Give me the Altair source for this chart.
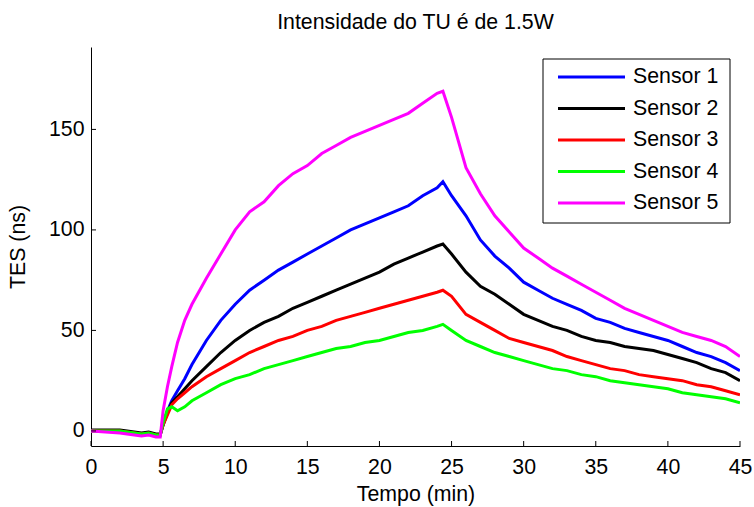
import altair as alt
import pandas as pd

# ---- data ----
t = [0, 1, 2, 2.5, 3, 3.5, 4, 4.5, 4.8,
     5.0, 5.3, 5.6, 6, 6.5, 7,
     8, 9, 10, 11, 12, 13, 14, 15, 16, 17, 18, 19, 20, 21, 22, 23, 24,
     24.4,
     25, 26, 27, 28, 29, 30, 31, 32, 33, 34, 35, 36, 37, 38, 39, 40, 41, 42, 43, 44, 45]

sensor1 = [0, 0, 0, -0.5, -1, -1.5, -1, -2, -2,
           3, 10, 15, 20, 26, 33,
           45, 55, 63, 70, 75, 80, 84, 88, 92, 96, 100, 103, 106, 109, 112, 117, 121,
           124,
           117, 107, 95, 87, 81, 74, 70, 66, 63, 60, 56, 54, 51, 49, 47, 45, 42, 39, 37, 34, 30]

sensor2 = [0.5, 0.5, 0.5, 0, -0.5, -1, -0.5, -1.5, -1.5,
           3, 9, 14, 17, 21, 25,
           32, 39, 45, 50, 54, 57, 61, 64, 67, 70, 73, 76, 79, 83, 86, 89, 92,
           93,
           88, 79, 72, 68, 63, 58, 55, 52, 50, 47, 45, 44, 42, 41, 40, 38, 36, 34, 31, 29, 25]

sensor3 = [0, 0, 0, -0.5, -1, -1.5, -1, -2, -2,
           3, 8, 13, 16, 19, 22,
           27, 31, 35, 39, 42, 45, 47, 50, 52, 55, 57, 59, 61, 63, 65, 67, 69,
           70,
           67, 58, 54, 50, 46, 44, 42, 40, 37, 35, 33, 31, 30, 28, 27, 26, 25, 23, 22, 20, 18]

sensor4 = [0, 0, 0, -0.5, -1, -1.5, -1, -2, -2,
           4, 11, 12, 10, 12, 15,
           19, 23, 26, 28, 31, 33, 35, 37, 39, 41, 42, 44, 45, 47, 49, 50, 52,
           53,
           50, 45, 42, 39, 37, 35, 33, 31, 30, 28, 27, 25, 24, 23, 22, 21, 19, 18, 17, 16, 14]

sensor5 = [0, -0.5, -1, -1.5, -2, -2.5, -2, -3, -3,
           10, 22, 32, 44, 55, 63,
           76, 88, 100, 109, 114, 122, 128, 132, 138, 142, 146, 149, 152, 155, 158, 163, 168,
           169,
           156, 131, 118, 107, 99, 91, 86, 81, 77, 73, 69, 65, 61, 58, 55, 52, 49, 47, 45, 42, 37]

names = ["Sensor 1", "Sensor 2", "Sensor 3", "Sensor 4", "Sensor 5"]
colors = ["#0000FF", "#000000", "#FF0000", "#00FF00", "#FF00FF"]
x_ticks = [0, 5, 10, 15, 20, 25, 30, 35, 40, 45]
y_ticks = [0, 50, 100, 150]

series = [sensor1, sensor2, sensor3, sensor4, sensor5]
rows = []
for name, vals in zip(names, series):
    for ti, v in zip(t, vals):
        rows.append({"t": ti, "v": v, "sensor": name})
df = pd.DataFrame(rows)

FONT = "Liberation Sans"
FS = 21.3
W, H = 649, 399
XDOM = [0, 45]
YDOM = [-7.5, 191]

lines = alt.Chart(df).mark_line(strokeWidth=3, clip=True).encode(
    x=alt.X("t:Q", title="Tempo (min)",
            scale=alt.Scale(domain=XDOM, nice=False, zero=False),
            axis=alt.Axis(values=x_ticks, ticks=False, labelPadding=10, labelFlush=False,
                          titlePadding=6, format="d")),
    y=alt.Y("v:Q", title="TES (ns)",
            scale=alt.Scale(domain=YDOM, nice=False, zero=False),
            axis=alt.Axis(values=y_ticks, ticks=False, labelPadding=7, labelFlush=False,
                          titlePadding=20, format="d")),
    color=alt.Color("sensor:N", scale=alt.Scale(domain=names, range=colors), legend=None),
    detail="sensor:N",
)

xtick_df = pd.DataFrame({"xt": x_ticks})
xt = alt.Chart(xtick_df).mark_rule(color="black", strokeWidth=1).encode(
    x=alt.X("xt:Q", title="Tempo (min)", scale=alt.Scale(domain=XDOM, nice=False, zero=False)),
    y=alt.value(H), y2=alt.value(H - 5),
)

ytick_df = pd.DataFrame({"yt": y_ticks})
yt = alt.Chart(ytick_df).mark_rule(color="black", strokeWidth=1).encode(
    y=alt.Y("yt:Q", title="TES (ns)", scale=alt.Scale(domain=YDOM, nice=False, zero=False),
            axis=None),
    x=alt.value(0), x2=alt.value(5),
)

box = alt.Chart(pd.DataFrame({"a": [0]})).mark_rect(
    fill="white", stroke="black", strokeWidth=1
).encode(x=alt.value(452), x2=alt.value(639), y=alt.value(12), y2=alt.value(176))

leg_df = pd.DataFrame({"sensor": names})
leg_y = alt.Y("sensor:N", scale=alt.Scale(type="point", domain=names, range=[30, 156], padding=0),
              axis=None)
leg_lines = alt.Chart(leg_df).mark_rule(strokeWidth=3).encode(
    y=leg_y,
    x=alt.value(467), x2=alt.value(534),
    color=alt.Color("sensor:N", scale=alt.Scale(domain=names, range=colors), legend=None),
)
leg_text = alt.Chart(leg_df).mark_text(
    align="left", baseline="middle", font=FONT, fontSize=FS, color="black"
).encode(y=leg_y, x=alt.value(542), text="sensor:N")

chart = alt.layer(lines, xt, yt, box, leg_lines, leg_text).resolve_scale(
    y="independent"
).properties(
    width=W, height=H,
    title=alt.TitleParams("Intensidade do TU é de 1.5W", font=FONT, fontSize=FS,
                          fontWeight="normal", color="black", anchor="middle", offset=14),
    autosize=alt.AutoSizeParams(type="none"),
    padding={"left": 91, "top": 47, "right": 14, "bottom": 61},
).configure_view(stroke=None).configure_axis(
    grid=False, domainColor="black", domainWidth=1,
    labelFont=FONT, labelFontSize=FS, labelColor="black",
    titleFont=FONT, titleFontSize=FS, titleFontWeight="normal", titleColor="black",
)

chart.save("out.html", embed_options={"renderer": "svg", "actions": False})
